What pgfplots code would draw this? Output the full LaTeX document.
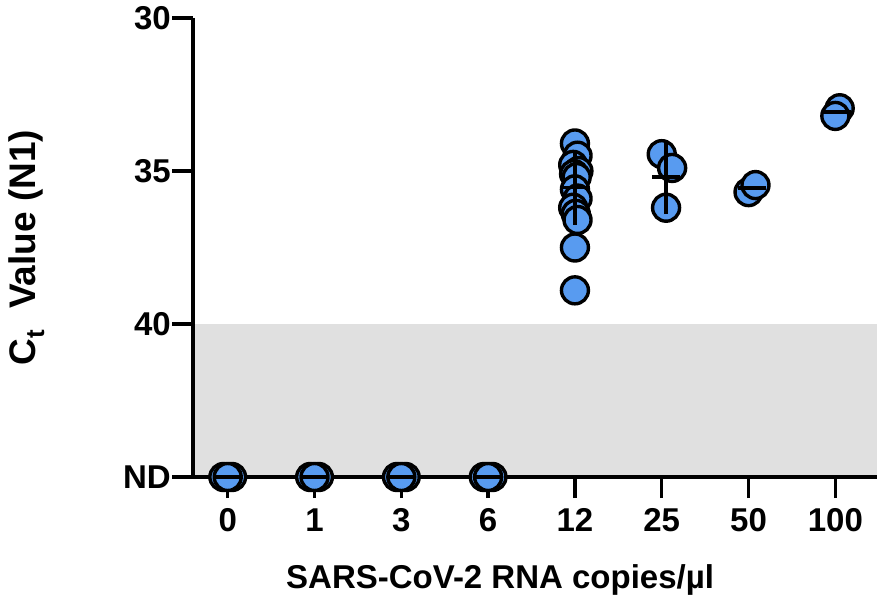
\documentclass[border=0pt]{standalone}
\usepackage{fontspec}
\setmainfont{Liberation Sans}
\usepackage{pgfplots}
\pgfplotsset{compat=1.18}
\definecolor{dotblue}{RGB}{88,155,240}
\definecolor{ndgray}{RGB}{224,224,224}
\begin{document}
\begin{tikzpicture}
\begin{axis}[
  set layers,
  scale only axis, width=684pt, height=459pt,
  y dir=reverse,
  xmin=-0.4, xmax=7.48, ymin=30, ymax=45,
  axis x line=bottom, axis y line=left,
  axis line style={line width=3.3pt, -},
  tick style={line width=3.3pt, black},
  major tick length=21pt,
  tick align=outside,
  xtick={0,...,7}, xticklabels={0,1,3,6,12,25,50,100},
  ytick={30,35,40,45}, yticklabels={30,35,40,ND},
  tick label style={font=\fontsize{33}{34}\selectfont\bfseries},
  yticklabel style={inner xsep=1pt},
  xticklabel style={yshift=-7pt},
  /pgf/number format/assume math mode=true,
  xlabel={SARS-CoV-2 RNA copies/µl},
  ylabel={C\textsubscript{t}\ \ Value (N1)},
  xlabel style={font=\fontsize{33}{35}\selectfont\bfseries,
    at={(axis description cs:0.449,-0.225)}, anchor=center},
  ylabel style={font=\fontsize{37}{39}\selectfont\bfseries,
    at={(axis description cs:-0.243,0.5)}, anchor=center},
  clip=false,
]
% grey band: below detection limit
\addplot[on layer=axis background, fill=ndgray, draw=none]
  coordinates {(-0.4,40) (7.48,40) (7.48,45) (-0.4,45)} -- cycle;

% individual replicates
\addplot[only marks, mark=*, mark size=13.5pt,
  mark options={fill=dotblue, draw=black, line width=3.4pt}] coordinates {
  (-0.05,45) (0.05,45) (0,45)
  (0.95,45) (1.05,45) (1,45)
  (1.95,45) (2.05,45) (2,45)
  (2.95,45) (3.05,45) (3,45)
  (4,34.1) (4.03,34.5) (3.98,34.8) (4.04,35.0) (3.99,35.1) (4.02,35.2)
  (4,35.6) (4.03,35.9) (3.98,36.2) (4.01,36.4) (4.03,36.6) (4,37.5) (4,38.9)
  (5.0,34.45) (5.12,34.9) (5.05,36.2)
  (6.0,35.69) (6.08,35.46)
  (7.05,32.95) (7.0,33.2)
};

% means without visible spread
\addplot[on layer=axis foreground,
  only marks, mark=-, mark size=14pt, mark options={line width=3.3pt, black}]
  coordinates {(0,45) (1,45) (2,45) (3,45) (6.04,35.56) (7.02,33.07)};

% mean and SD
\addplot[on layer=axis foreground,
  only marks, mark=-, mark size=14pt, mark options={line width=3.3pt, black},
  error bars/.cd, y dir=both, y explicit,
  error bar style={line width=3.3pt, black},
  error mark=-, error mark options={mark size=8pt, line width=3.3pt, black}]
  coordinates {
  (4,35.55) +- (0,0.95)
  (5.05,35.2) +- (0,0.95)
};
\coordinate (ll) at (axis description cs:0,0);
\coordinate (ur) at (axis description cs:1,1);
\end{axis}
\pgfresetboundingbox
\path ([xshift=-193pt,yshift=-134pt]ll) rectangle ([xshift=9pt,yshift=18pt]ur);
\end{tikzpicture}
\end{document}
